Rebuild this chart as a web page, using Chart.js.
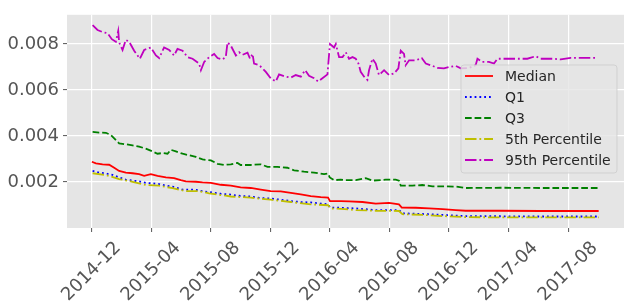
<!DOCTYPE html>
<html>
<head>
<meta charset="utf-8">
<script src="https://cdn.jsdelivr.net/npm/chart.js@4/dist/chart.umd.min.js"></script>
<style>
  body { margin: 0; background: #ffffff; }
</style>
</head>
<body>
<canvas id="chart" width="634" height="308"></canvas>
<script>
// x values are months counted from 2014-12
const xTickMonths = [0, 4, 8, 12, 16, 20, 24, 28, 32];
const xTickLabels = ['2014-12', '2015-04', '2015-08', '2015-12', '2016-04', '2016-08', '2016-12', '2017-04', '2017-08'];
const yTickValues = [0.002, 0.004, 0.006, 0.008];
const seriesNames = ['Median', 'Q1', 'Q3', '5th Percentile', '95th Percentile'];

const medianMonths = [0.02, 0.29, 0.74, 1.18, 1.52, 1.85, 2.30, 2.75, 3.19, 3.53, 3.98, 4.43, 4.99, 5.54, 5.99, 6.33, 7.00, 7.45, 8.01, 8.68, 9.35, 10.01, 10.69, 11.36, 12.03, 12.70, 13.38, 14.05, 14.72, 15.39, 15.88, 16.01, 16.73, 17.29, 18.19, 19.08, 19.97, 20.64, 20.83, 21.77, 22.66, 23.56, 24.45, 25.12, 27.47, 30.15, 34.05];
const medianValues = [0.00288, 0.00281, 0.00277, 0.00275, 0.00262, 0.00248, 0.00241, 0.00238, 0.00234, 0.00227, 0.00234, 0.00227, 0.0022, 0.00217, 0.00208, 0.00203, 0.00201, 0.00198, 0.00196, 0.00188, 0.00184, 0.00177, 0.00174, 0.00167, 0.0016, 0.00159, 0.00153, 0.00146, 0.00139, 0.00134, 0.00132, 0.00117, 0.00117, 0.00116, 0.00113, 0.00106, 0.00109, 0.00103, 0.00089, 0.00088, 0.00085, 0.00082, 0.00078, 0.00075, 0.00075, 0.00074, 0.00074];

const q1Months = [0.07, 0.51, 0.96, 1.41, 1.85, 2.30, 2.75, 3.19, 3.64, 4.09, 4.54, 4.99, 5.44, 6.11, 6.55, 7.00, 7.45, 7.89, 8.68, 9.35, 10.01, 10.69, 11.36, 12.03, 12.70, 13.38, 14.05, 14.72, 15.39, 15.88, 16.01, 16.73, 17.74, 19.08, 20.64, 20.87, 22.21, 23.56, 25.12, 27.47, 30.15, 34.05];
const q1Values = [0.00248, 0.00241, 0.00237, 0.00231, 0.0022, 0.0021, 0.00206, 0.00203, 0.00196, 0.00194, 0.00191, 0.00184, 0.0018, 0.00167, 0.00167, 0.00166, 0.0016, 0.00156, 0.00149, 0.00145, 0.00139, 0.00137, 0.0013, 0.00128, 0.00123, 0.00117, 0.00113, 0.00111, 0.00106, 0.00103, 0.00089, 0.00088, 0.00085, 0.00078, 0.00078, 0.00064, 0.00061, 0.00057, 0.00052, 0.00051, 0.0005, 0.0005];

const q3Months = [0.07, 0.51, 0.96, 1.30, 1.52, 1.85, 2.30, 2.75, 3.19, 3.64, 4.09, 4.43, 4.77, 5.10, 5.32, 5.66, 6.11, 6.55, 7.00, 7.45, 8.01, 8.46, 8.90, 9.35, 9.80, 10.01, 10.69, 11.36, 11.81, 12.48, 13.15, 13.60, 14.27, 14.94, 15.61, 15.88, 15.99, 16.28, 16.73, 17.07, 17.74, 18.41, 18.86, 19.75, 20.42, 20.64, 20.76, 21.54, 22.21, 22.89, 23.78, 24.45, 25.12, 27.47, 30.15, 34.05];
const q3Values = [0.00418, 0.00415, 0.00414, 0.00404, 0.0039, 0.00368, 0.00364, 0.00359, 0.00354, 0.00345, 0.00333, 0.00323, 0.00326, 0.00323, 0.0034, 0.00333, 0.00323, 0.00316, 0.00309, 0.00298, 0.00294, 0.00279, 0.00274, 0.00277, 0.00283, 0.00274, 0.00274, 0.00277, 0.00266, 0.00266, 0.00262, 0.00251, 0.00245, 0.00241, 0.00234, 0.00237, 0.0022, 0.00208, 0.0021, 0.00208, 0.00208, 0.00217, 0.00206, 0.0021, 0.0021, 0.00206, 0.00184, 0.00184, 0.00187, 0.00181, 0.00181, 0.0018, 0.00174, 0.00175, 0.00174, 0.00174];

const p5Months = [0.07, 0.96, 1.85, 2.75, 3.64, 4.54, 5.44, 6.33, 7.22, 7.89, 9.35, 10.69, 12.03, 13.38, 14.72, 15.88, 16.07, 16.73, 17.74, 19.08, 20.64, 20.87, 22.21, 23.56, 25.12, 28.81, 34.05];
const p5Values = [0.00238, 0.0023, 0.00213, 0.00201, 0.00187, 0.00184, 0.00173, 0.0016, 0.0016, 0.00151, 0.00137, 0.00132, 0.00123, 0.00113, 0.00103, 0.00099, 0.00085, 0.00083, 0.00078, 0.00075, 0.00074, 0.0006, 0.00057, 0.00052, 0.00047, 0.00046, 0.00046];

const p95Months = [0.07, 0.40, 0.74, 1.07, 1.36, 1.63, 1.79, 1.85, 2.08, 2.30, 2.52, 2.86, 3.24, 3.53, 3.98, 4.32, 4.54, 4.87, 5.21, 5.54, 5.77, 6.11, 6.44, 6.78, 7.22, 7.34, 7.56, 7.89, 8.23, 8.46, 8.79, 9.01, 9.13, 9.35, 9.69, 9.91, 10.13, 10.47, 10.64, 10.81, 10.91, 11.25, 11.48, 11.70, 12.03, 12.37, 12.59, 13.04, 13.38, 13.71, 14.05, 14.34, 14.60, 14.94, 15.21, 15.50, 15.84, 15.95, 16.01, 16.28, 16.40, 16.62, 16.85, 17.07, 17.29, 17.52, 17.74, 17.92, 18.07, 18.30, 18.52, 18.63, 18.86, 19.08, 19.30, 19.42, 19.64, 19.97, 20.31, 20.60, 20.76, 20.98, 21.09, 21.32, 21.77, 22.17, 22.44, 22.89, 23.22, 23.66, 24.00, 24.45, 24.79, 25.34, 25.79, 25.91, 26.24, 26.68, 27.02, 27.25, 27.92, 28.70, 29.26, 29.82, 30.15, 31.05, 31.50, 32.17, 32.84, 33.98];
const p95Values = [0.00882, 0.00861, 0.00852, 0.00847, 0.00821, 0.0081, 0.00857, 0.00807, 0.00774, 0.00818, 0.0081, 0.00771, 0.00736, 0.00774, 0.00785, 0.0075, 0.00739, 0.00785, 0.00774, 0.0075, 0.00779, 0.00771, 0.00743, 0.00736, 0.00715, 0.00686, 0.00722, 0.00743, 0.00757, 0.00739, 0.00733, 0.00743, 0.00807, 0.00793, 0.0075, 0.00764, 0.00753, 0.00762, 0.00736, 0.00757, 0.00715, 0.00708, 0.00694, 0.00679, 0.00651, 0.00637, 0.00668, 0.00658, 0.00654, 0.00665, 0.00658, 0.00686, 0.00662, 0.00651, 0.00637, 0.00651, 0.00668, 0.00757, 0.008, 0.00785, 0.008, 0.00743, 0.00743, 0.00764, 0.00736, 0.00743, 0.00736, 0.00715, 0.00679, 0.00658, 0.00644, 0.00686, 0.00736, 0.00715, 0.00665, 0.00672, 0.00686, 0.00665, 0.00672, 0.00694, 0.00771, 0.00757, 0.00708, 0.00729, 0.00729, 0.00739, 0.00715, 0.00705, 0.00696, 0.00694, 0.007, 0.00705, 0.00694, 0.00696, 0.00708, 0.00736, 0.00722, 0.00722, 0.00715, 0.00736, 0.00736, 0.00736, 0.00736, 0.00747, 0.00736, 0.00736, 0.00733, 0.0074, 0.0074, 0.0074];

const FONT = '"DejaVu Sans", "Liberation Sans", sans-serif';
const LW = 1.8;

// Pair x and y arrays into points
function points(xs, ys) {
    return xs.map((x, i) => ({ x: x, y: ys[i] }));
}

function makeSeries(label, xs, ys, color, dash, order) {
    return {
        label: label,
        data: points(xs, ys),
        borderColor: color,
        borderWidth: LW,
        borderDash: dash,
        pointRadius: 0,
        fill: false,
        tension: 0,
        order: order
    };
}

// Grey plot background
const plotBackground = {
    id: 'plotBackground',
    beforeDraw(chart) {
        const { ctx, chartArea: a } = chart;
        ctx.save();
        ctx.fillStyle = '#e5e5e5';
        ctx.fillRect(a.left, a.top, a.right - a.left, a.bottom - a.top);
        ctx.restore();
    }
};

// Rotated x labels centred under their ticks
const xLabels = {
    id: 'xLabels',
    afterDraw(chart) {
        const { ctx, chartArea: a } = chart;
        const xs = chart.scales.x;
        ctx.save();
        ctx.font = '18px ' + FONT;
        ctx.fillStyle = '#555555';
        ctx.textAlign = 'center';
        ctx.textBaseline = 'middle';
        xTickMonths.forEach((m, i) => {
            const w = ctx.measureText(xTickLabels[i]).width;
            const h = 20;
            const half = (w + h) * Math.SQRT1_2 / 2;
            ctx.save();
            ctx.translate(xs.getPixelForValue(m), a.bottom + 10 + half);
            ctx.rotate(-Math.PI / 4);
            ctx.fillText(xTickLabels[i], 0, 0);
            ctx.restore();
        });
        ctx.restore();
    }
};

// Legend box inside the plot, upper right
const insideLegend = {
    id: 'insideLegend',
    afterDatasetsDraw(chart) {
        const { ctx } = chart;
        const box = { x: 461, y: 65, w: 156, h: 108 };
        ctx.save();
        ctx.beginPath();
        ctx.roundRect(box.x, box.y, box.w, box.h, 3);
        ctx.fillStyle = 'rgba(229,229,229,0.8)';
        ctx.fill();
        ctx.strokeStyle = 'rgba(204,204,204,0.8)';
        ctx.lineWidth = 1;
        ctx.stroke();
        ctx.font = '14px ' + FONT;
        ctx.textBaseline = 'middle';
        ctx.textAlign = 'left';
        chart.data.datasets.forEach((ds, i) => {
            const y = 76 + i * 21;
            ctx.beginPath();
            ctx.setLineDash(ds.borderDash);
            ctx.strokeStyle = ds.borderColor;
            ctx.lineWidth = LW;
            ctx.moveTo(465, y);
            ctx.lineTo(493, y);
            ctx.stroke();
            ctx.setLineDash([]);
            ctx.fillStyle = '#262626';
            ctx.fillText(ds.label, 505, y + 1);
        });
        ctx.restore();
    }
};

new Chart(document.getElementById('chart'), {
    type: 'line',
    data: {
        datasets: [
            makeSeries(seriesNames[0], medianMonths, medianValues, '#ff0000', [], 5),
            makeSeries(seriesNames[1], q1Months, q1Values, '#0000ff', [1.8, 3], 4),
            makeSeries(seriesNames[2], q3Months, q3Values, '#008000', [6.7, 2.9], 3),
            makeSeries(seriesNames[3], p5Months, p5Values, '#bfbf00', [11.5, 2.9, 1.8, 2.9], 2),
            makeSeries(seriesNames[4], p95Months, p95Values, '#bf00bf', [11.5, 2.9, 1.8, 2.9], 1)
        ]
    },
    options: {
        responsive: false,
        devicePixelRatio: 1,
        animation: false,
        layout: { padding: { top: 11, right: 10, left: 0, bottom: 0 } },
        plugins: {
            legend: { display: false },
            tooltip: { enabled: false }
        },
        scales: {
            x: {
                type: 'linear',
                min: -1.65,
                max: 35.75,
                afterBuildTicks: s => { s.ticks = xTickMonths.map(v => ({ value: v })); },
                afterFit: s => { s.height = 80; },
                ticks: { display: false },
                grid: { color: '#ffffff', lineWidth: 1.2, tickColor: '#555555', tickLength: 4, tickWidth: 1 },
                border: { display: false }
            },
            y: {
                type: 'linear',
                min: 0,
                max: 0.00927,
                afterBuildTicks: s => { s.ticks = yTickValues.map(v => ({ value: v })); },
                afterFit: s => { s.width = 67; },
                ticks: {
                    callback: v => v.toFixed(3),
                    color: '#555555',
                    font: { family: FONT, size: 18 },
                    padding: 4
                },
                grid: { color: '#ffffff', lineWidth: 1.2, tickColor: '#555555', tickLength: 4, tickWidth: 1 },
                border: { display: false }
            }
        }
    },
    plugins: [plotBackground, xLabels, insideLegend]
});
</script>
</body>
</html>
